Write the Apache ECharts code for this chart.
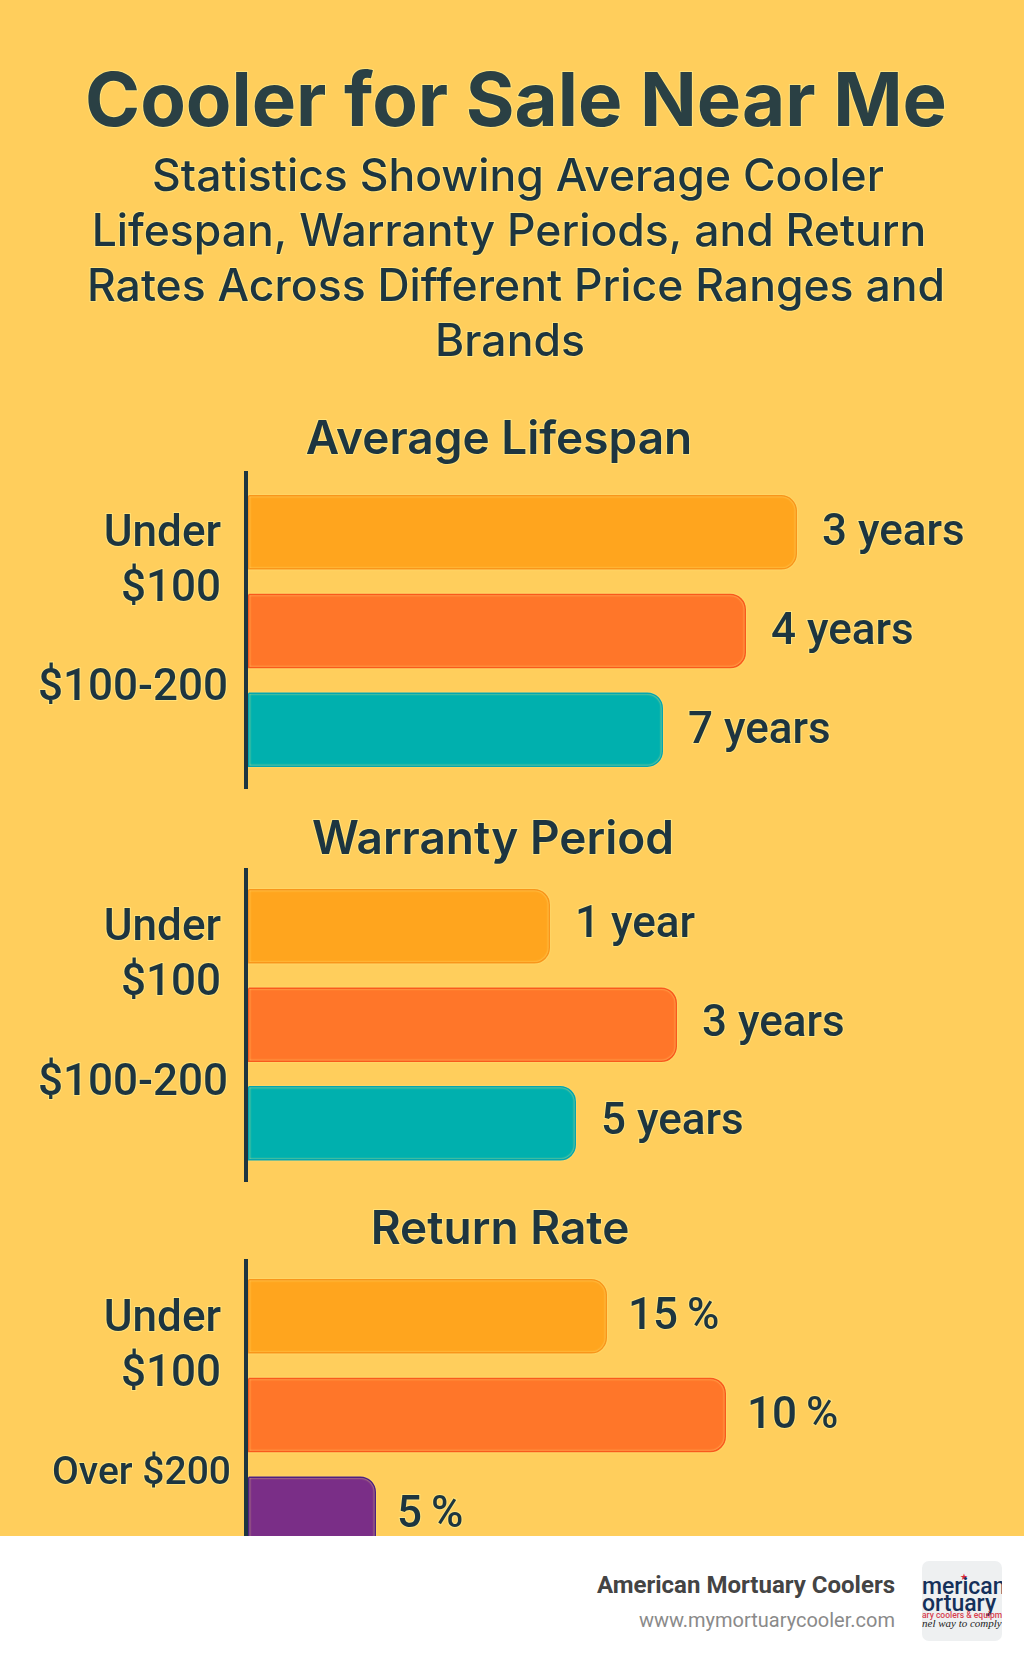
<!DOCTYPE html>
<html>
<head>
<meta charset="utf-8">
<title>Cooler for Sale Near Me</title>
<script src="https://cdn.jsdelivr.net/npm/echarts@6/dist/echarts.min.js"></script>
<style>
  html, body { margin: 0; padding: 0; background: #fff; }
  #chart { width: 1024px; height: 1536px; }
  #footer { position: relative; width: 1024px; height: 130px; background: #fff; font-family: Roboto, sans-serif; }
  .brand { position: absolute; right: 129px; top: 35px; font-size: 24px; font-weight: 700; color: #444; white-space: nowrap; }
  .site { position: absolute; right: 129px; top: 72px; font-size: 20px; color: #8a8a8a; white-space: nowrap; }
  .logo { position: absolute; left: 922px; top: 25px; width: 80px; height: 80px; background: #eef0f1; border-radius: 7px; overflow: hidden; white-space: nowrap; }
  .logo div { position: absolute; left: 0; }
  .logo .big { font-size: 23px; font-weight: 500; color: #15305a; line-height: 24px; }
  .logo .star { left: 38px; top: 11px; font-size: 9px; line-height: 10px; color: #d8283a; }
  .logo .red { top: 49px; font-size: 8.5px; line-height: 10px; font-weight: 500; color: #d8404f; }
  .logo .script { top: 56px; font-size: 11px; line-height: 12px; font-style: italic; font-family: "Liberation Serif", serif; color: #222; }
</style>
</head>
<body>
<div id="chart"></div>
<div id="footer">
  <div class="brand">American Mortuary Coolers</div>
  <div class="site">www.mymortuarycooler.com</div>
  <div class="logo">
    <div class="star">★</div>
    <div class="big" style="top:14px">merican</div>
    <div class="big" style="top:31px">ortuary</div>
    <div class="red">ary coolers &amp; equipment</div>
    <div class="script">nel way to comply</div>
  </div>
</div>
<script>
const MAIN_TITLE = "Cooler for Sale Near Me";
const SUBTITLE_LINES = [
  "Statistics Showing Average Cooler",
  "Lifespan, Warranty Periods, and Return",
  "Rates Across Different Price Ranges and",
  "Brands",
];

// Lengths are in an unlabelled unit, the axis itself is never shown.
const PANEL_TITLES = ["Average Lifespan", "Warranty Period", "Return Rate"];
const LIFESPAN_LENGTHS = [549, 498, 415];
const LIFESPAN_LABELS = ["3 years", "4 years", "7 years"];
const WARRANTY_LENGTHS = [302, 429, 328];
const WARRANTY_LABELS = ["1 year", "3 years", "5 years"];
const RETURN_LENGTHS = [359, 478, 128];
const RETURN_LABELS = ["15\u2009%", "10\u2009%", "5\u2009%"];

const LIFESPAN_TICKS = ["Under\n$100", "$100-200"];
const WARRANTY_TICKS = ["Under\n$100", "$100-200"];
const RETURN_TICKS = ["Under\n$100", "Over $200"];
const BAR_SLOTS = ["first", "second", "third"];

const LENGTH_AXIS_MAX = 776;
const BAR_COLORS = ["#ffa51e", "#ff7629", "#00b0ae"];
const BAR_BORDERS = ["#f9961a", "#f9591c", "#04a6b0"];
const RETURN_COLORS = ["#ffa51e", "#ff7629", "#7a2e87"];
const RETURN_BORDERS = ["#f9961a", "#f9591c", "#4f1f80"];

const INK = "#1d3540";
const FONT = "Roboto";
const HEAD_FONT = "Inter";
const PAGE = "#ffce5c";
const HALO = "#ffe27a";

const panels = [
  {
    title: PANEL_TITLES[0], titleX: 499, titleY: 440,
    lengths: LIFESPAN_LENGTHS, labels: LIFESPAN_LABELS, ticks: LIFESPAN_TICKS,
    colors: BAR_COLORS, borders: BAR_BORDERS, labelDistance: 25, labelLift: 2,
    barTop: 483, barHeight: 296,
    frameTop: 471, frameHeight: 318, frameRange: [-0.625, 2.6], tickAt: [0.303, 1.584],
  },
  {
    title: PANEL_TITLES[1], titleX: 493, titleY: 840,
    lengths: WARRANTY_LENGTHS, labels: WARRANTY_LABELS, ticks: WARRANTY_TICKS,
    colors: BAR_COLORS, borders: BAR_BORDERS, labelDistance: 25, labelLift: 0,
    barTop: 877, barHeight: 295.5,
    frameTop: 868, frameHeight: 314, frameRange: [-0.589, 2.6], tickAt: [0.309, 1.608],
  },
  {
    title: PANEL_TITLES[2], titleX: 500, titleY: 1230,
    lengths: RETURN_LENGTHS, labels: RETURN_LABELS, ticks: RETURN_TICKS,
    colors: RETURN_COLORS, borders: RETURN_BORDERS, labelDistance: 21, labelLift: 2,
    barTop: 1267, barHeight: 296,
    frameTop: 1259, frameHeight: 314, frameRange: [-0.577, 2.6], tickAt: [0.317, 1.604],
  },
];

// Tick labels do not share a right edge in the source, hence the per-style padding.
function tickText(text) {
  if (!text) return "";
  if (text.includes("\n")) return text.split("\n").map((line) => `{two|${line}}`).join("\n");
  return text.startsWith("Over") ? `{small|${text}}` : `{wide|${text}}`;
}

const halo = { textBorderColor: HALO, textBorderWidth: 2 };
const tickRich = {
  two: { fontFamily: FONT, fontSize: 44, fontWeight: 500, lineHeight: 55, color: INK, align: "right", padding: [0, 10, 0, 0], ...halo },
  wide: { fontFamily: FONT, fontSize: 44, fontWeight: 500, lineHeight: 55, color: INK, align: "right", padding: [0, 3, 0, 0], ...halo },
  small: { fontFamily: FONT, fontSize: 39, fontWeight: 500, lineHeight: 46, color: INK, align: "right", ...halo },
};

const titles = [
  { text: MAIN_TITLE, left: 516, top: 104, padding: 0, textAlign: "center", textVerticalAlign: "middle",
    textStyle: { fontFamily: HEAD_FONT, fontSize: 74.5, fontWeight: 700, color: "#2a4044", ...halo } },
];
const subtitleCenters = [518, 509, 516, 510];
SUBTITLE_LINES.forEach((line, i) => {
  titles.push({ text: line, left: subtitleCenters[i], top: 178 + i * 55, padding: 0, textAlign: "center", textVerticalAlign: "middle",
    textStyle: { fontFamily: HEAD_FONT, fontSize: 44.5, fontWeight: 500, color: INK, ...halo } });
});

const grids = [];
const xAxes = [];
const yAxes = [];
const series = [];

panels.forEach((panel) => {
  titles.push({ text: panel.title, left: panel.titleX, top: panel.titleY, padding: 0, textAlign: "center", textVerticalAlign: "middle",
    textStyle: { fontFamily: HEAD_FONT, fontSize: 46, fontWeight: 600, color: INK, ...halo } });

  const barIndex = grids.length;
  grids.push({ left: 248, top: panel.barTop, width: LENGTH_AXIS_MAX, height: panel.barHeight, outerBoundsMode: "none" });
  xAxes.push({ gridIndex: barIndex, type: "value", min: 0, max: LENGTH_AXIS_MAX, show: false });
  yAxes.push({ gridIndex: barIndex, type: "category", inverse: true, data: BAR_SLOTS, show: false });
  series.push({
    type: "bar",
    xAxisIndex: barIndex,
    yAxisIndex: barIndex,
    barWidth: 74.5,
    data: panel.lengths.map((value, i) => ({
      value,
      itemStyle: {
        color: panel.colors[i],
        borderColor: panel.borders[i],
        borderWidth: 1.5,
        borderRadius: [0, 15, 15, 0],
        shadowColor: HALO,
        shadowBlur: 2,
      },
    })),
    label: {
      show: true,
      position: "right",
      distance: panel.labelDistance,
      offset: [0, panel.labelLift],
      fontFamily: FONT,
      fontSize: 44,
      fontWeight: 500,
      color: INK,
      ...halo,
      formatter: (p) => panel.labels[p.dataIndex],
    },
  });

  // Separate frame grid: the axis line overshoots the bars and its labels sit off the bar centres.
  const frameIndex = grids.length;
  grids.push({ left: 246, top: panel.frameTop, width: 2, height: panel.frameHeight, outerBoundsMode: "none" });
  xAxes.push({ gridIndex: frameIndex, type: "value", show: false });
  yAxes.push({
    gridIndex: frameIndex,
    type: "value",
    inverse: true,
    z: 5,
    min: panel.frameRange[0],
    max: panel.frameRange[1],
    splitLine: { show: false },
    axisTick: { show: false },
    axisLine: { show: true, lineStyle: { color: INK, width: 4, cap: "butt" } },
    axisLabel: {
      margin: 15,
      customValues: panel.tickAt,
      formatter: (value) => tickText(panel.ticks[panel.tickAt.indexOf(value)]),
      rich: tickRich,
    },
  });
});

const chart = echarts.init(document.getElementById("chart"), null, { renderer: "canvas" });
chart.setOption({
  animation: false,
  backgroundColor: PAGE,
  title: titles,
  grid: grids,
  xAxis: xAxes,
  yAxis: yAxes,
  series,
});
</script>
</body>
</html>
